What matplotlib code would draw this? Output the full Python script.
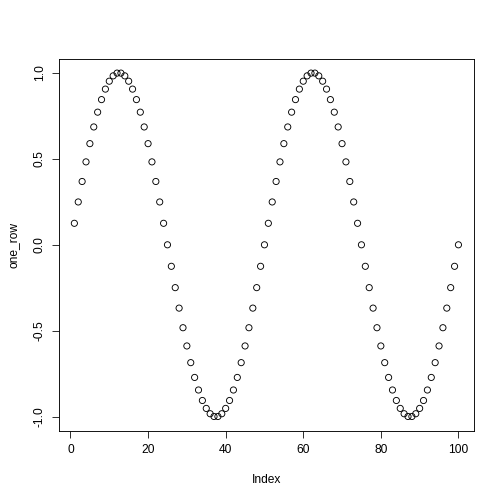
import matplotlib
matplotlib.use("Agg")
import matplotlib.pyplot as plt

half = [0.125, 0.249, 0.368, 0.482, 0.588, 0.685, 0.771, 0.844, 0.905, 0.951,
        0.982, 0.998, 0.998, 0.982, 0.951, 0.905, 0.844, 0.771, 0.685, 0.588,
        0.482, 0.368, 0.249, 0.125, 0.000]
neg_half = [-0.125, -0.249, -0.368, -0.482, -0.588, -0.685, -0.771, -0.844, -0.905, -0.951,
            -0.982, -0.998, -0.998, -0.982, -0.951, -0.905, -0.844, -0.771, -0.685, -0.588,
            -0.482, -0.368, -0.249, -0.125, 0.000]
one_row = half + neg_half + half + neg_half
index = list(range(1, len(one_row) + 1))
xticks = [0, 20, 40, 60, 80, 100]
yticks = [-1.0, -0.5, 0.0, 0.5, 1.0]
ytick_labels = ["-1.0", "-0.5", "0.0", "0.5", "1.0"]

plt.rcParams['font.family'] = ['Liberation Sans', 'DejaVu Sans']
fig = plt.figure(figsize=(7, 7), dpi=72)
ax = fig.add_axes([59/504, 73.4/504, (504-59-30.2)/504, (504-73.4-59)/504])
ax.scatter(index, one_row, s=38, facecolors='none', edgecolors='black', linewidths=0.9)
ax.set_xlim(1 - 0.04*99, 100 + 0.04*99)
ax.set_ylim(-1.08, 1.08)
ax.set_xticks(xticks)
ax.set_xticklabels([str(t) for t in xticks])
ax.set_yticks(yticks)
ax.set_yticklabels(ytick_labels, rotation=90, va='center')
ax.tick_params(direction='out', length=7.2, width=0.8, labelsize=12, pad=6)
for s in ax.spines.values():
    s.set_linewidth(0.9)
ax.set_xlabel("Index", fontsize=12, labelpad=18)
ax.set_ylabel("one_row", fontsize=12, labelpad=14)
fig.savefig("out.png", dpi=72)
